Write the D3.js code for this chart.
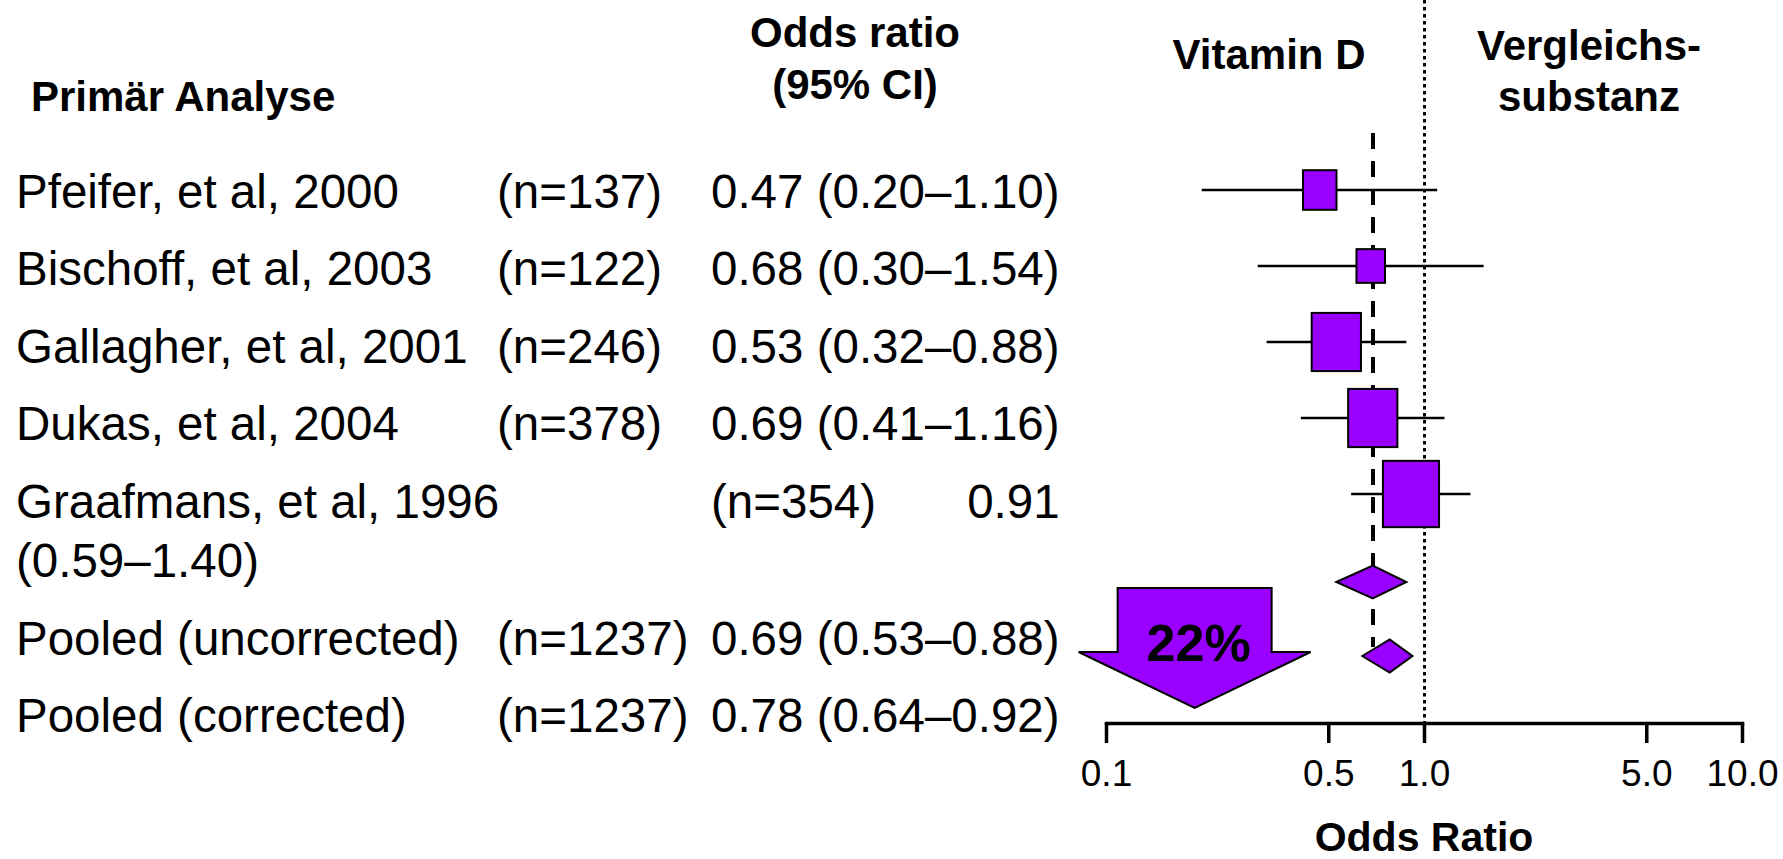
<!DOCTYPE html>
<html>
<head>
<meta charset="utf-8">
<script src="https://cdn.jsdelivr.net/npm/d3@7"></script>
<style>
  html, body { margin: 0; padding: 0; background: #fff; }
  svg { display: block; font-family: "Liberation Sans", Arial, Helvetica, sans-serif; }
</style>
</head>
<body>
<svg id="chart" width="1783" height="859"></svg>
<script>
// ---- data ----
const studies      = ["Pfeifer, et al, 2000", "Bischoff, et al, 2003", "Gallagher, et al, 2001", "Dukas, et al, 2004", "Graafmans, et al, 1996"];
const studyN       = [137, 122, 246, 378, 354];
const studyOR      = [0.47, 0.68, 0.53, 0.69, 0.91];
const studyLo      = [0.20, 0.30, 0.32, 0.41, 0.59];
const studyHi      = [1.10, 1.54, 0.88, 1.16, 1.40];
const studyWeight  = [11.3, 8.2, 24.4, 24.4, 31.7];   // % weight in the meta-analysis

const pooled       = ["Pooled (uncorrected)", "Pooled (corrected)"];
const pooledN      = [1237, 1237];
const pooledOR     = [0.69, 0.78];
const pooledLo     = [0.53, 0.64];
const pooledHi     = [0.88, 0.92];

const axisTicks    = [0.1, 0.5, 1, 5, 10];

// ---- setup ----
const svg = d3.select("#chart");
const purple = "#9900ff";
const ink = "#000";

const x = d3.scaleLog().domain([0.1, 10]).range([1106, 1742]);
const yStudy = d3.scalePoint().domain(studies).range([190, 494]);
const yPooled = d3.scalePoint().domain(pooled).range([582, 656]);
const side = d3.scaleSqrt().domain([0, d3.max(studyWeight)]).range([0, 61]);
const axisY = 723;
const fmt2 = d3.format(".2f");
const crisp = v => Math.round(v) + 0.5;

// ---- headers ----
const headers = svg.append("g").attr("font-weight", "bold").attr("font-size", 42).attr("fill", ink);
headers.append("text").attr("x", 31).attr("y", 111).text("Primär Analyse");
headers.append("text").attr("x", 855).attr("y", 47).attr("text-anchor", "middle").text("Odds ratio");
headers.append("text").attr("x", 855).attr("y", 98.5).attr("text-anchor", "middle").text("(95% CI)");
headers.append("text").attr("x", 1269).attr("y", 69).attr("text-anchor", "middle").text("Vitamin D");
headers.append("text").attr("x", 1589).attr("y", 60).attr("text-anchor", "middle").text("Vergleichs-");
headers.append("text").attr("x", 1589).attr("y", 111).attr("text-anchor", "middle").text("substanz");

// ---- table text ----
const rows = studies.map((s, i) => ({ name: s, n: studyN[i], or: studyOR[i], lo: studyLo[i], hi: studyHi[i] }))
  .concat(pooled.map((s, i) => ({ name: s, n: pooledN[i], or: pooledOR[i], lo: pooledLo[i], hi: pooledHi[i] })));

const col = { name: 16, n: 497, or: 711 };
const lineH = 59.5, rowGap = 18;
const table = svg.append("g").attr("font-size", 47.5).attr("fill", ink);

const orLabel = r => fmt2(r.or);
const ciLabel = r => `(${fmt2(r.lo)}–${fmt2(r.hi)})`;

// right edge of the OR column, from the widest full entry
const probe = table.append("text").attr("x", col.or).attr("y", -100);
let orWidth = 0;
rows.forEach(r => { probe.text(`${orLabel(r)} ${ciLabel(r)}`); orWidth = Math.max(orWidth, probe.node().getComputedTextLength()); });
probe.remove();
const orRight = col.or + orWidth;

let yText = 207.5;
rows.forEach(r => {
  const name = table.append("text").attr("x", col.name).attr("y", yText).text(r.name);
  const nameEnd = col.name + name.node().getComputedTextLength();
  if (nameEnd + 18 <= col.n) {
    table.append("text").attr("x", col.n).attr("y", yText).text(`(n=${r.n})`);
    table.append("text").attr("x", col.or).attr("y", yText).text(`${orLabel(r)} ${ciLabel(r)}`);
    yText += lineH + rowGap;
  } else {
    // long name pushes the remaining fields one tab stop right; CI wraps
    table.append("text").attr("x", col.or).attr("y", yText).text(`(n=${r.n})`);
    table.append("text").attr("x", orRight).attr("y", yText).attr("text-anchor", "end").text(orLabel(r));
    table.append("text").attr("x", col.name).attr("y", yText + lineH).text(ciLabel(r));
    yText += 2 * lineH + rowGap;
  }
});

// ---- reference lines ----
svg.append("line")
  .attr("x1", crisp(x(1))).attr("x2", crisp(x(1)))
  .attr("y1", 0).attr("y2", axisY)
  .attr("stroke", ink).attr("stroke-width", 3).attr("stroke-dasharray", "3.5,3.5");

svg.append("line")
  .attr("x1", Math.round(x(pooledOR[0]))).attr("x2", Math.round(x(pooledOR[0])))
  .attr("y1", yStudy(studies[0]) - 57).attr("y2", yPooled(pooled[1]) - 9)
  .attr("stroke", ink).attr("stroke-width", 4).attr("stroke-dasharray", "16,12");

// ---- study estimates ----
const est = svg.append("g");
studies.forEach((s, i) => {
  const y = yStudy(s);
  est.append("line")
    .attr("x1", x(studyLo[i])).attr("x2", x(studyHi[i]))
    .attr("y1", y).attr("y2", y)
    .attr("stroke", ink).attr("stroke-width", 2.5);
  const a = side(studyWeight[i]);
  const w = a * 0.92, h = a / 0.92;
  est.append("rect")
    .attr("x", x(studyOR[i]) - w / 2).attr("y", y - h / 2)
    .attr("width", w).attr("height", h)
    .attr("fill", purple).attr("stroke", ink).attr("stroke-width", 2);
});

// ---- pooled diamonds ----
pooled.forEach((p, i) => {
  const y = yPooled(p), hh = 16.5;
  est.append("path")
    .attr("d", `M${x(pooledLo[i])},${y}L${x(pooledOR[i])},${y - hh}L${x(pooledHi[i])},${y}L${x(pooledOR[i])},${y + hh}Z`)
    .attr("fill", purple).attr("stroke", ink).attr("stroke-width", 2);
});

// ---- risk reduction arrow ----
const reduction = 1 - pooledOR[1];
const arrowCx = x(0.19);
const arrowTop = yPooled(pooled[0]) + 6, arrowShoulder = arrowTop + 64, arrowTip = axisY - 15;
const shaftHalf = 77, headHalf = 116;
svg.append("path")
  .attr("d", `M${arrowCx - shaftHalf},${arrowTop}H${arrowCx + shaftHalf}V${arrowShoulder}H${arrowCx + headHalf}L${arrowCx},${arrowTip}L${arrowCx - headHalf},${arrowShoulder}H${arrowCx - shaftHalf}Z`)
  .attr("fill", purple).attr("stroke", ink).attr("stroke-width", 2);
svg.append("text")
  .attr("x", arrowCx + 4).attr("y", arrowTop + 73)
  .attr("text-anchor", "middle").attr("font-weight", "bold").attr("font-size", 52).attr("fill", ink)
  .text(d3.format(".0%")(reduction));

// ---- axis ----
const axis = d3.axisBottom(x)
  .tickValues(axisTicks)
  .tickFormat(d3.format(".1f"))
  .tickSize(20)
  .tickSizeOuter(0)
  .tickPadding(16.7);

const gAxis = svg.append("g").attr("transform", `translate(0,${axisY})`).call(axis);
gAxis.select(".domain").attr("stroke", ink).attr("stroke-width", 3.5).attr("stroke-linecap", "square");
gAxis.selectAll(".tick line").attr("stroke", ink).attr("stroke-width", 3.5);
gAxis.selectAll(".tick text")
  .attr("fill", ink)
  .attr("font-size", 37)
  .attr("font-family", "\"Liberation Sans\", Arial, sans-serif");

svg.append("text")
  .attr("x", x(1)).attr("y", 851)
  .attr("text-anchor", "middle").attr("font-weight", "bold").attr("font-size", 41).attr("fill", ink)
  .text("Odds Ratio");
</script>
</body>
</html>
